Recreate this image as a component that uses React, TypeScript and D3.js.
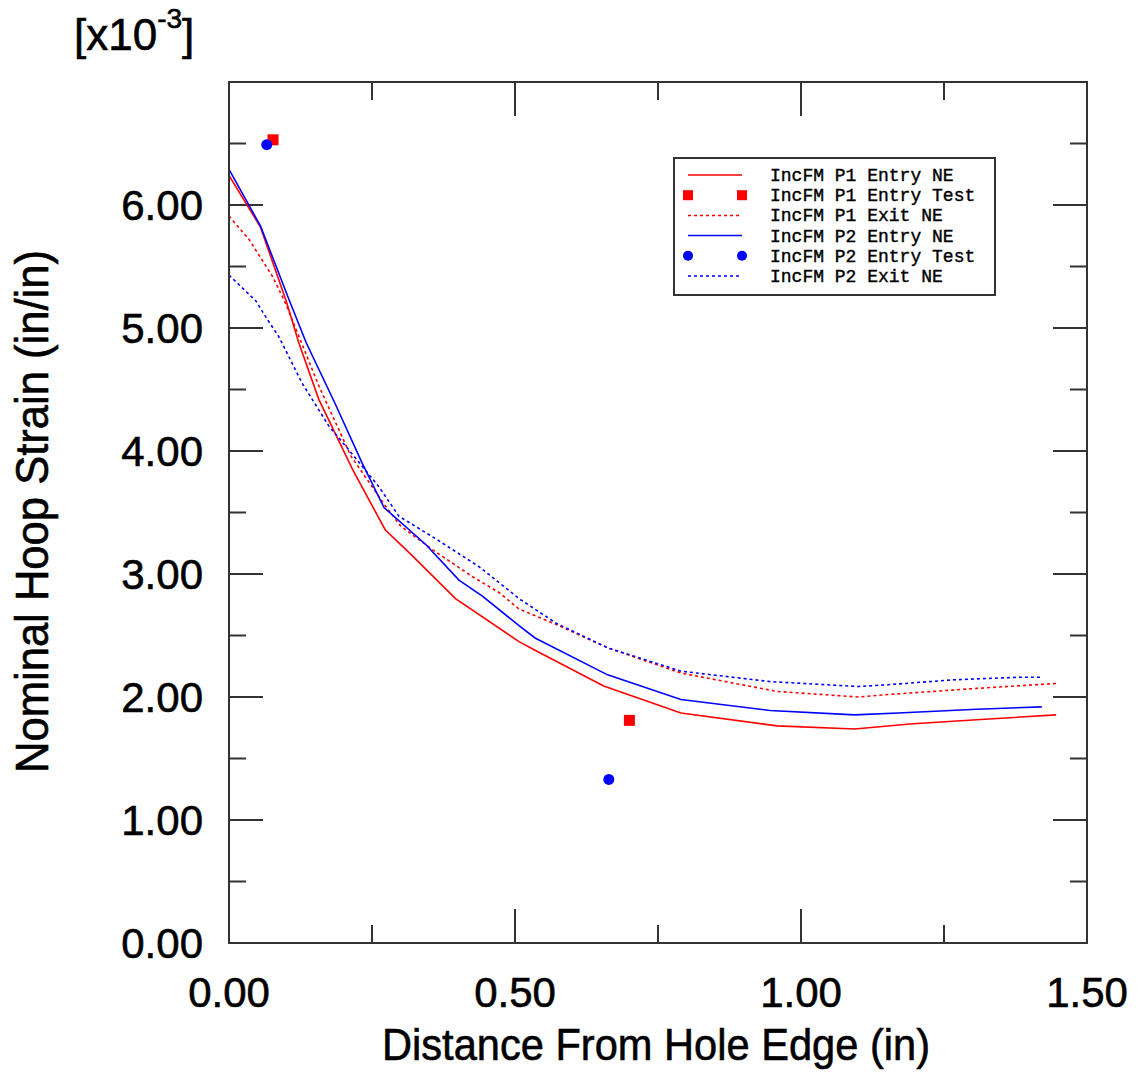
import * as d3 from "d3";

// P1 Entry NE (red solid)
const p1EntryX = [0, 0.055, 0.1, 0.122, 0.157, 0.216, 0.273, 0.318, 0.396, 0.507, 0.535, 0.655, 0.79, 0.958, 1.094, 1.19, 1.307, 1.446];
const p1EntryY = [6.24, 5.82, 5.22, 4.88, 4.42, 3.85, 3.36, 3.16, 2.8, 2.45, 2.38, 2.09, 1.87, 1.765, 1.74, 1.78, 1.815, 1.855];

// P1 Exit NE (red dotted)
const p1ExitX = [0, 0.035, 0.076, 0.099, 0.157, 0.213, 0.274, 0.3, 0.355, 0.425, 0.472, 0.507, 0.572, 0.662, 0.79, 0.958, 1.1, 1.152, 1.307, 1.446];
const p1ExitY = [5.91, 5.72, 5.42, 5.2, 4.53, 3.96, 3.55, 3.39, 3.2, 2.98, 2.85, 2.715, 2.59, 2.4, 2.195, 2.045, 2.0, 2.02, 2.07, 2.11];

// P2 Entry NE (blue solid)
const p2EntryX = [0, 0.055, 0.105, 0.135, 0.185, 0.233, 0.271, 0.344, 0.402, 0.443, 0.507, 0.535, 0.662, 0.79, 0.946, 1.094, 1.17, 1.307, 1.421];
const p2EntryY = [6.29, 5.83, 5.23, 4.88, 4.39, 3.9, 3.54, 3.24, 2.95, 2.82, 2.58, 2.48, 2.18, 1.98, 1.89, 1.855, 1.87, 1.9, 1.92];

// P2 Exit NE (blue dotted)
const p2ExitX = [0, 0.047, 0.067, 0.087, 0.128, 0.175, 0.204, 0.262, 0.297, 0.367, 0.437, 0.507, 0.572, 0.662, 0.79, 0.946, 1.1, 1.152, 1.268, 1.378, 1.42];
const p2ExitY = [5.43, 5.22, 5.07, 4.93, 4.55, 4.2, 4.04, 3.71, 3.47, 3.27, 3.06, 2.8, 2.6, 2.4, 2.21, 2.125, 2.085, 2.1, 2.14, 2.16, 2.16];

// test points
const p1TestX = [0.077, 0.7];
const p1TestY = [6.53, 1.81];
const p2TestX = [0.066, 0.664];
const p2TestY = [6.49, 1.33];

const xTickLabels = [0, 0.5, 1.0, 1.5];
const yTickLabels = [0, 1, 2, 3, 4, 5, 6];

const legendLabels = [
  "IncFM P1 Entry NE",
  "IncFM P1 Entry Test",
  "IncFM P1 Exit NE",
  "IncFM P2 Entry NE",
  "IncFM P2 Entry Test",
  "IncFM P2 Exit NE",
];

const W = 1143, H = 1074;
const left = 229, right = 1087, top = 82, bottom = 943;

const zip = (xs: number[], ys: number[]) => xs.map((x, i) => [x, ys[i]] as [number, number]);

export default function App() {
  const x = d3.scaleLinear().domain([0, 1.5]).range([left, right]);
  const y = d3.scaleLinear().domain([0, 7]).range([bottom, top]);
  const line = d3.line<[number, number]>().x(d => x(d[0])).y(d => y(d[1]));

  const series = [
    { pts: zip(p1EntryX, p1EntryY), color: "#ff0000", dash: null },
    { pts: zip(p1ExitX, p1ExitY), color: "#ff0000", dash: "3,3" },
    { pts: zip(p2EntryX, p2EntryY), color: "#0000ff", dash: null },
    { pts: zip(p2ExitX, p2ExitY), color: "#0000ff", dash: "3,3" },
  ];

  const xTicks = d3.range(1, 6).map(i => i * 0.25);
  const yTicks = d3.range(1, 14).map(i => i * 0.5);
  const axisColor = "#333";
  const sans = "'Liberation Sans', Arial, sans-serif";

  const legX0 = 688, legX1 = 742, legTextX = 770, legY0 = 175, legStep = 20.2;

  return (
    <svg width={W} height={H} style={{ position: "absolute", left: 0, top: 0, background: "#fff" }}>
      <defs>
        <clipPath id="plot">
          <rect x={left} y={top} width={right - left} height={bottom - top} />
        </clipPath>
      </defs>
      <rect width={W} height={H} fill="#fff" />

      {/* ticks */}
      <g stroke={axisColor} strokeWidth={2}>
        {xTicks.map((t, i) => {
          const len = Math.abs(t - Math.round(t * 2) / 2) < 1e-6 ? 34 : 18;
          return (
            <g key={"xt" + i}>
              <line x1={x(t)} x2={x(t)} y1={bottom} y2={bottom - len} />
              <line x1={x(t)} x2={x(t)} y1={top} y2={top + len} />
            </g>
          );
        })}
        {yTicks.map((t, i) => {
          const len = Math.abs(t - Math.round(t)) < 1e-6 ? 34 : 17;
          return (
            <g key={"yt" + i}>
              <line x1={left} x2={left + len} y1={y(t)} y2={y(t)} />
              <line x1={right} x2={right - len} y1={y(t)} y2={y(t)} />
            </g>
          );
        })}
      </g>

      {/* series */}
      <g clipPath="url(#plot)" fill="none">
        {series.map((s, i) => (
          <path key={i} d={line(s.pts) || ""} stroke={s.color} strokeWidth={1.6}
            strokeDasharray={s.dash || undefined} />
        ))}
      </g>

      {zip(p1TestX, p1TestY).map((d, i) => (
        <rect key={"sq" + i} x={x(d[0]) - 5.5} y={y(d[1]) - 5.5} width={11} height={11} fill="#ff0000" />
      ))}
      {zip(p2TestX, p2TestY).map((d, i) => (
        <circle key={"ci" + i} cx={x(d[0])} cy={y(d[1])} r={5.5} fill="#0000ff" />
      ))}

      {/* frame */}
      <rect x={left} y={top} width={right - left} height={bottom - top} fill="none" stroke={axisColor} strokeWidth={2} />

      {/* tick labels */}
      <g fontFamily={sans} fontSize={42} fill="#000" stroke="#000" strokeWidth={0.6}>
        {xTickLabels.map((t, i) => (
          <text key={"xl" + i} x={x(t)} y={1007} textAnchor="middle">{t.toFixed(2)}</text>
        ))}
        {yTickLabels.map((t, i) => (
          <text key={"yl" + i} x={203} y={y(t) + 15} textAnchor="end">{t.toFixed(2)}</text>
        ))}
      </g>

      {/* axis titles */}
      <g fontFamily={sans} fill="#000" stroke="#000" strokeWidth={0.6}>
        <text x={656} y={1060} textAnchor="middle" fontSize={44}
          textLength={548} lengthAdjust="spacingAndGlyphs">Distance From Hole Edge (in)</text>
        <text transform="translate(48,511.5) rotate(-90)" textAnchor="middle" fontSize={46}
          textLength={523} lengthAdjust="spacingAndGlyphs">Nominal Hoop Strain (in/in)</text>

        {/* multiplier */}
        <text x={74} y={50} fontSize={44}>
          [x10<tspan fontSize={28} dy={-22}>-3</tspan><tspan dy={22} fontSize={44}>]</tspan>
        </text>
      </g>

      {/* legend */}
      <rect x={674} y={158} width={321} height={137} fill="#fff" stroke={axisColor} strokeWidth={2} />
      {legendLabels.map((lab, i) => {
        const ly = legY0 + i * legStep;
        const color = i < 3 ? "#ff0000" : "#0000ff";
        let sample;
        if (i === 1) {
          sample = (
            <g fill={color}>
              <rect x={legX0 - 5} y={ly - 5} width={10} height={10} />
              <rect x={legX1 - 5} y={ly - 5} width={10} height={10} />
            </g>
          );
        } else if (i === 4) {
          sample = (
            <g fill={color}>
              <circle cx={legX0} cy={ly} r={5} />
              <circle cx={legX1} cy={ly} r={5} />
            </g>
          );
        } else {
          sample = (
            <line x1={legX0} x2={legX1} y1={ly} y2={ly} stroke={color} strokeWidth={1.5}
              strokeDasharray={i === 2 || i === 5 ? "3,3" : undefined} />
          );
        }
        return (
          <g key={"lg" + i}>
            {sample}
            <text x={legTextX} y={ly + 6} fontFamily="'Liberation Mono', 'Courier New', monospace" fontSize={18}
              fill="#000" stroke="#000" strokeWidth={0.4}>{lab}</text>
          </g>
        );
      })}
    </svg>
  );
}
